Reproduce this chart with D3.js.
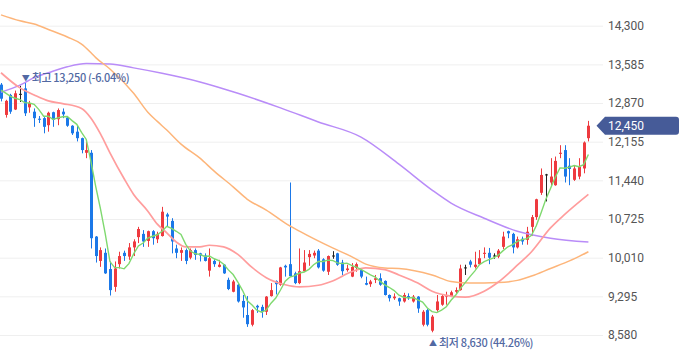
<!DOCTYPE html>
<html><head><meta charset="utf-8">
<script src="https://cdn.jsdelivr.net/npm/d3@7"></script>
<style>html,body{margin:0;padding:0;background:#fff;}svg{display:block;}</style>
</head><body>
<svg id="chart" width="680" height="358"></svg>
<script>
// ---- data (daily candles, oldest -> newest) ----
const opens = [13210,12650,13020,12750,13040,13140,12790,12710,12580,12590,
12460,12700,12570,12710,12600,12450,12340,12220,11950,11950,
10400,9950,10100,9800,9470,9890,10100,10030,10200,10390,
10450,10320,10500,10350,10410,10810,10690,10180,10100,10150,
10010,10150,10090,10050,9770,9950,9840,9880,9600,9380,
9510,9210,8950,8770,9120,9100,9010,9300,9580,9510,
9860,9890,9720,9540,9760,10020,10050,10140,9980,9750,
10050,10090,9920,9780,9660,9820,9780,9540,9520,9600,
9630,9580,9320,9260,9260,9200,9300,9200,9290,8770,
9040,8660,9040,9140,9290,9300,9380,9410,9830,9940,
9840,9890,10080,10100,10050,10030,10210,10500,10450,10200,
10360,10340,10580,10760,11210,11550,11400,11350,11930,12000,
11710,11450,11510,11660,12220];
const highs = [13240,12930,13040,13100,13190,13250,12910,12770,12630,12610,
12710,12710,12770,12770,12630,12460,12460,12230,12150,12000,
10410,10200,10180,9940,9940,10120,10140,10280,10350,10580,
10520,10510,10520,10490,10950,10840,10740,10250,10200,10180,
10180,10180,10100,10090,10180,9980,9970,9890,9640,9600,
9540,9320,9300,9060,9140,9140,9300,9540,9590,9840,
9880,11400,9750,10180,10150,10150,10140,10170,10000,10050,
10130,10100,9970,9880,9910,9920,9800,9660,9600,9690,
9720,9590,9330,9350,9270,9360,9350,9320,9300,9040,
9060,8950,9320,9320,9380,9400,9460,9880,9880,9970,
10120,10150,10200,10190,10090,10170,10490,10510,10470,10400,
10400,10580,10800,11100,11660,11560,11850,11880,12090,12090,
11850,11720,11850,12160,12540];
const lows = [12900,12600,12670,12740,12890,12630,12690,12430,12500,12310,
12340,12430,12460,12590,12430,12280,12160,11940,11850,10180,
9920,9840,9710,9310,9380,9810,9950,9970,10040,10280,
10210,10210,10250,10280,10400,10580,10090,10000,9950,9890,
9980,9970,9940,9940,9660,9840,9830,9710,9410,9370,
9180,8900,8730,8740,8990,8900,8950,9290,9330,9490,
9660,9660,9520,9520,9750,9860,10000,9810,9750,9690,
9990,9860,9690,9750,9650,9750,9630,9500,9470,9540,
9490,9310,9200,9230,9120,9180,9230,9180,8990,8740,
8740,8630,9010,9120,9140,9280,9350,9400,9690,9830,
9810,9880,10000,9890,9990,10000,10170,10370,10090,10180,
10250,10250,10410,10710,11170,11050,11340,11340,11850,11400,
11350,11430,11460,11570,12160];
const closes = [12950,12910,12710,13050,13040,12680,12870,12590,12560,12430,
12690,12560,12740,12660,12450,12310,12220,12000,12000,10370,
10040,10150,9720,9410,9810,10040,10040,10200,10310,10540,
10310,10500,10370,10450,10860,10770,10310,10100,10150,9950,
10150,10060,10050,9950,10000,9890,9880,9720,9430,9570,
9200,9090,8780,9040,9090,9010,9290,9410,9520,9830,
9830,9670,9540,9760,9920,10080,10100,9830,9770,10040,
10050,9880,9760,9810,9840,9890,9660,9510,9570,9630,
9510,9320,9260,9290,9200,9320,9260,9290,9070,9010,
8770,8920,9200,9300,9320,9370,9410,9810,9830,9880,
9880,10000,10100,10010,10050,10140,10400,10460,10200,10350,
10310,10490,10760,11090,11540,11550,11510,11800,11950,11510,
11650,11660,11690,12140,12450];
const priorCloses = [13200,13000,13230,13170];

// moving averages (candle index, value)
const ma20Idx = [0,4,7,10,13,17,19,21,23,26,28,31,33,35,37,39,42,44,47,50,53,56,60,63,67,70,74,77,81,84,88,91,95,98,102,105,109,112,116,119,124];
const ma20Val = [13430,13150,13020,12910,12860,12770,12590,12300,11950,11470,11180,10870,10630,10470,10300,10210,10210,10240,10210,10070,9830,9640,9510,9470,9500,9580,9750,9820,9790,9690,9540,9390,9300,9280,9390,9560,9870,10120,10560,10810,11180];
const ma60Idx = [0,4,7,10,14,17,19,20,23,28,31,33,35,38,42,45,49,52,56,60,63,70,74,77,81,84,91,95,99,105,109,112,116,120,124];
const ma60Val = [14500,14390,14330,14230,14090,13960,13800,13710,13500,13050,12700,12530,12370,12110,11850,11610,11320,11090,10890,10650,10500,10190,10030,9890,9820,9810,9690,9570,9540,9550,9590,9670,9810,9950,10120];
const ma120Idx = [0,4,7,10,14,18,23,28,34,42,50,59,67,76,84,91,95,102,109,116,124];
const ma120Val = [13070,13200,13340,13430,13540,13600,13590,13520,13420,13260,13050,12780,12520,12240,11740,11260,11020,10740,10500,10370,10300];

const yTicks = [8580,9295,10010,10725,11440,12155,12870,13585,14300];
const lastPrice = 12450;
const highIdx = 5, highText = "최고 13,250 (-6.04%)";
const lowIdx = 91, lowText = "최저 8,630 (44.26%)";

// ---- drawing ----
const svg = d3.select("#chart");
const plotRight = 603;
const x = d3.scaleLinear().domain([0, closes.length - 1]).range([1, 588.4]);
const y = d3.scaleLinear().domain([8580, 14300]).range([335, 25.7]);

svg.append("defs").append("clipPath").attr("id","clip")
  .append("rect").attr("x",0).attr("y",0).attr("width",plotRight).attr("height",358);

// axis + gridlines
const axis = d3.axisRight(y).tickValues(yTicks).tickSize(-plotRight).tickPadding(5)
  .tickFormat(d3.format(","));
const gAxis = svg.append("g").attr("transform",`translate(${plotRight},0)`).call(axis);
gAxis.select(".domain").remove();
gAxis.selectAll(".tick line").attr("stroke","#efefef").attr("stroke-width",1);
gAxis.selectAll(".tick text").attr("fill","#555").attr("font-size","12px")
  .attr("font-family","Roboto, 'Noto Sans', sans-serif");

const plot = svg.append("g").attr("clip-path","url(#clip)");

// candles
const RED = "#ee3a3f", BLUE = "#1b78e8", BLACK = "#222";
const candles = closes.map((c,i)=>({i, o:opens[i], h:highs[i], l:lows[i], c}));
const col = d => d.c > d.o ? RED : (d.c < d.o ? BLUE : BLACK);
const cg = plot.append("g");
cg.selectAll("line.wick").data(candles).join("line")
  .attr("x1", d=>Math.round(x(d.i))+0.5).attr("x2", d=>Math.round(x(d.i))+0.5)
  .attr("y1", d=>y(d.h)).attr("y2", d=>y(d.l))
  .attr("stroke", col).attr("stroke-width",1);
cg.selectAll("rect.body").data(candles).join("rect")
  .attr("x", d=>Math.round(x(d.i))-1).attr("width",3)
  .attr("y", d=>y(Math.max(d.o,d.c)))
  .attr("height", d=>Math.max(1, Math.abs(y(d.o)-y(d.c))))
  .attr("fill", col);

// moving averages
const allCloses = priorCloses.concat(closes);
const ma5 = closes.map((c,i)=>[i, d3.mean(allCloses.slice(i, i+5))]);
const line = d3.line().x(d=>x(d[0])).y(d=>y(d[1]));
const smooth = d3.line().x(d=>x(d[0])).y(d=>y(d[1])).curve(d3.curveMonotoneX);
const zipPts = (a,b)=>a.map((v,k)=>[v,b[k]]);
plot.append("path").attr("d", smooth(zipPts(ma120Idx, ma120Val)))
  .attr("fill","none").attr("stroke","#b98cf8").attr("stroke-width",1.5);
plot.append("path").attr("d", smooth(zipPts(ma60Idx, ma60Val)))
  .attr("fill","none").attr("stroke","#fdb57a").attr("stroke-width",1.5);
plot.append("path").attr("d", smooth(zipPts(ma20Idx, ma20Val)))
  .attr("fill","none").attr("stroke","#ff9d9d").attr("stroke-width",1.7);
plot.append("path").attr("d", line(ma5))
  .attr("fill","none").attr("stroke","#7fd96f").attr("stroke-width",1.4);

// high / low annotations
const annColor = "#5269a3";
const ann = (idx, yPos, arrow, txt) => {
  const t = svg.append("text").attr("x", x(idx) - 3).attr("y", yPos)
    .attr("dominant-baseline","central").attr("fill", annColor)
    .attr("font-size","11px").attr("font-weight", 500)
    .attr("font-family","'Noto Sans CJK KR', 'Noto Sans', sans-serif");
  t.append("tspan").attr("font-size","8px").text(arrow);
  t.append("tspan").attr("dx", 2).attr("letter-spacing", "-0.35px").text(txt);
};
ann(highIdx, 76.5, "▼", highText);
ann(lowIdx, 341.5, "▲", lowText);

// last price tag
const py = y(lastPrice);
const tag = svg.append("g");
tag.append("path")
  .attr("d", `M596.5,${py} L605,${py-9} L676,${py-9} Q679,${py-9} 679,${py-6} L679,${py+6} Q679,${py+9} 676,${py+9} L605,${py+9} Z`)
  .attr("fill","#465b98");
tag.append("text").attr("x",608).attr("y",py).attr("dominant-baseline","central")
  .attr("fill","#fff").attr("font-size","12px")
  .attr("font-family","Roboto, 'Noto Sans', sans-serif")
  .text(d3.format(",")(lastPrice));
</script>
</body></html>
